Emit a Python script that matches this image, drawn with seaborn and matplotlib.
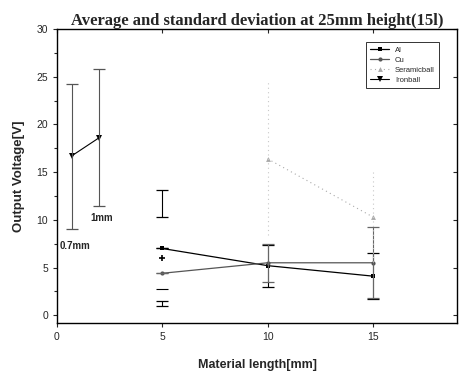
import matplotlib
matplotlib.use("Agg")
import matplotlib.pyplot as plt
import seaborn as sns
import pandas as pd
import numpy as np

sns.set_style("ticks")
plt.rcParams['font.family'] = ['Liberation Sans', 'DejaVu Sans']

# --- data ---
length_x = [5, 10, 15]
al_y = [7.0, 5.2, 4.1]
al_err = [0.0, 2.2, 2.4]
cu_y = [4.4, 5.5, 5.5]
cu_err = [0.0, 2.0, 3.7]
ser_x = [10, 15]
ser_y = [16.4, 10.3]
ser_err = [8.0, 4.7]
iron_x = [0.7, 2.0]
iron_y = [16.7, 18.6]
iron_lo = [9.0, 11.5]
iron_hi = [24.2, 25.8]
iron5_y = [6.0]
# unlabelled error bars at 5 mm
extra_x = [5, 5]
extra_lo = [10.3, 1.0]
extra_hi = [13.1, 1.5]
lone_cap_y = [2.8]

fig = plt.figure(figsize=(4.59, 3.72), dpi=100)
ax = fig.add_axes([0.124, 0.132, 0.872, 0.79])

df_al = pd.DataFrame({"x": length_x, "y": al_y})
df_cu = pd.DataFrame({"x": length_x, "y": cu_y})
df_ser = pd.DataFrame({"x": ser_x, "y": ser_y})
df_iron = pd.DataFrame({"x": iron_x, "y": iron_y})

sns.lineplot(data=df_al, x="x", y="y", ax=ax, color="black", lw=0.9,
             marker="s", markersize=3, markeredgewidth=0, label="Al")
sns.lineplot(data=df_cu, x="x", y="y", ax=ax, color="#555555", lw=0.9,
             marker="o", markersize=3, markeredgewidth=0, label="Cu")
sns.lineplot(data=df_ser, x="x", y="y", ax=ax, color="#aaaaaa", lw=0.8,
             linestyle=(0, (1, 3)), marker="^", markersize=3.5,
             markeredgewidth=0, label="Seramicball")
sns.lineplot(data=df_iron, x="x", y="y", ax=ax, color="black", lw=0.8,
             marker="v", markersize=4, markeredgewidth=0, label="Ironball")
ax.plot([5], iron5_y, marker="+", color="black", ms=5, mew=1.2, ls="none")

ekw = dict(fmt="none", capsize=4, elinewidth=0.8, capthick=0.9)
ax.errorbar(length_x, al_y, yerr=al_err, ecolor="black", **ekw)
ax.errorbar(length_x, cu_y, yerr=cu_err, ecolor="#666666", **ekw)
eb = ax.errorbar(ser_x, ser_y, yerr=ser_err, ecolor="#c8c8c8",
                 fmt="none", capsize=0, elinewidth=0.8)
for lc in eb[2]:
    lc.set_linestyle((0, (1, 3)))
ax.errorbar(iron_x, iron_y,
            yerr=[np.array(iron_y) - np.array(iron_lo), np.array(iron_hi) - np.array(iron_y)],
            ecolor="#555555", **ekw)
mid = (np.array(extra_lo) + np.array(extra_hi)) / 2
ax.errorbar(extra_x, mid, yerr=(np.array(extra_hi) - np.array(extra_lo)) / 2,
            ecolor="black", **ekw)
ax.plot([5], lone_cap_y, marker="_", color="black", ms=8, mew=0.8, ls="none")

ax.text(1.6, 10.2, "1mm", fontsize=7, fontweight="bold", va="center")
ax.text(0.15, 7.3, "0.7mm", fontsize=7, fontweight="bold", va="center")

ax.set_xlim(0, 19)
ax.set_ylim(-0.8, 30)
ax.set_xticks([0, 5, 10, 15])
ax.set_yticks([0, 5, 10, 15, 20, 25, 30])
ax.set_yticks(np.arange(2.5, 30, 5), minor=True)
ax.tick_params(axis="both", labelsize=7.5, length=3, width=0.8, direction="out")
ax.tick_params(axis="x", top=True, labeltop=False)
ax.tick_params(axis="y", right=True, labelright=False)
for t in ax.xaxis.get_major_ticks():
    t.tick2line.set_marker(3)  # inward on top
for t in ax.yaxis.get_major_ticks():
    t.tick2line.set_marker(0)  # inward on right
ax.tick_params(which="minor", left=True, right=False, length=2, width=0.8)
for s in ax.spines.values():
    s.set_linewidth(1.0)
    s.set_color("black")

ax.set_xlabel("Material length[mm]", fontsize=9, fontweight="bold", labelpad=12)
ax.set_ylabel("Output Voltage[V]", fontsize=9.5, fontweight="bold", labelpad=8)
ax.set_title("Average and standard deviation at 25mm height(15l)",
             fontsize=12, fontweight="bold", family="Liberation Serif", pad=3)

leg = ax.legend(loc="upper right", bbox_to_anchor=(0.965, 0.97), fontsize=5.5,
                frameon=True, fancybox=False, edgecolor="black",
                handlelength=2.4, borderpad=0.6, labelspacing=0.35)
leg.get_frame().set_linewidth(0.7)

fig.savefig("out.png", dpi=100)
